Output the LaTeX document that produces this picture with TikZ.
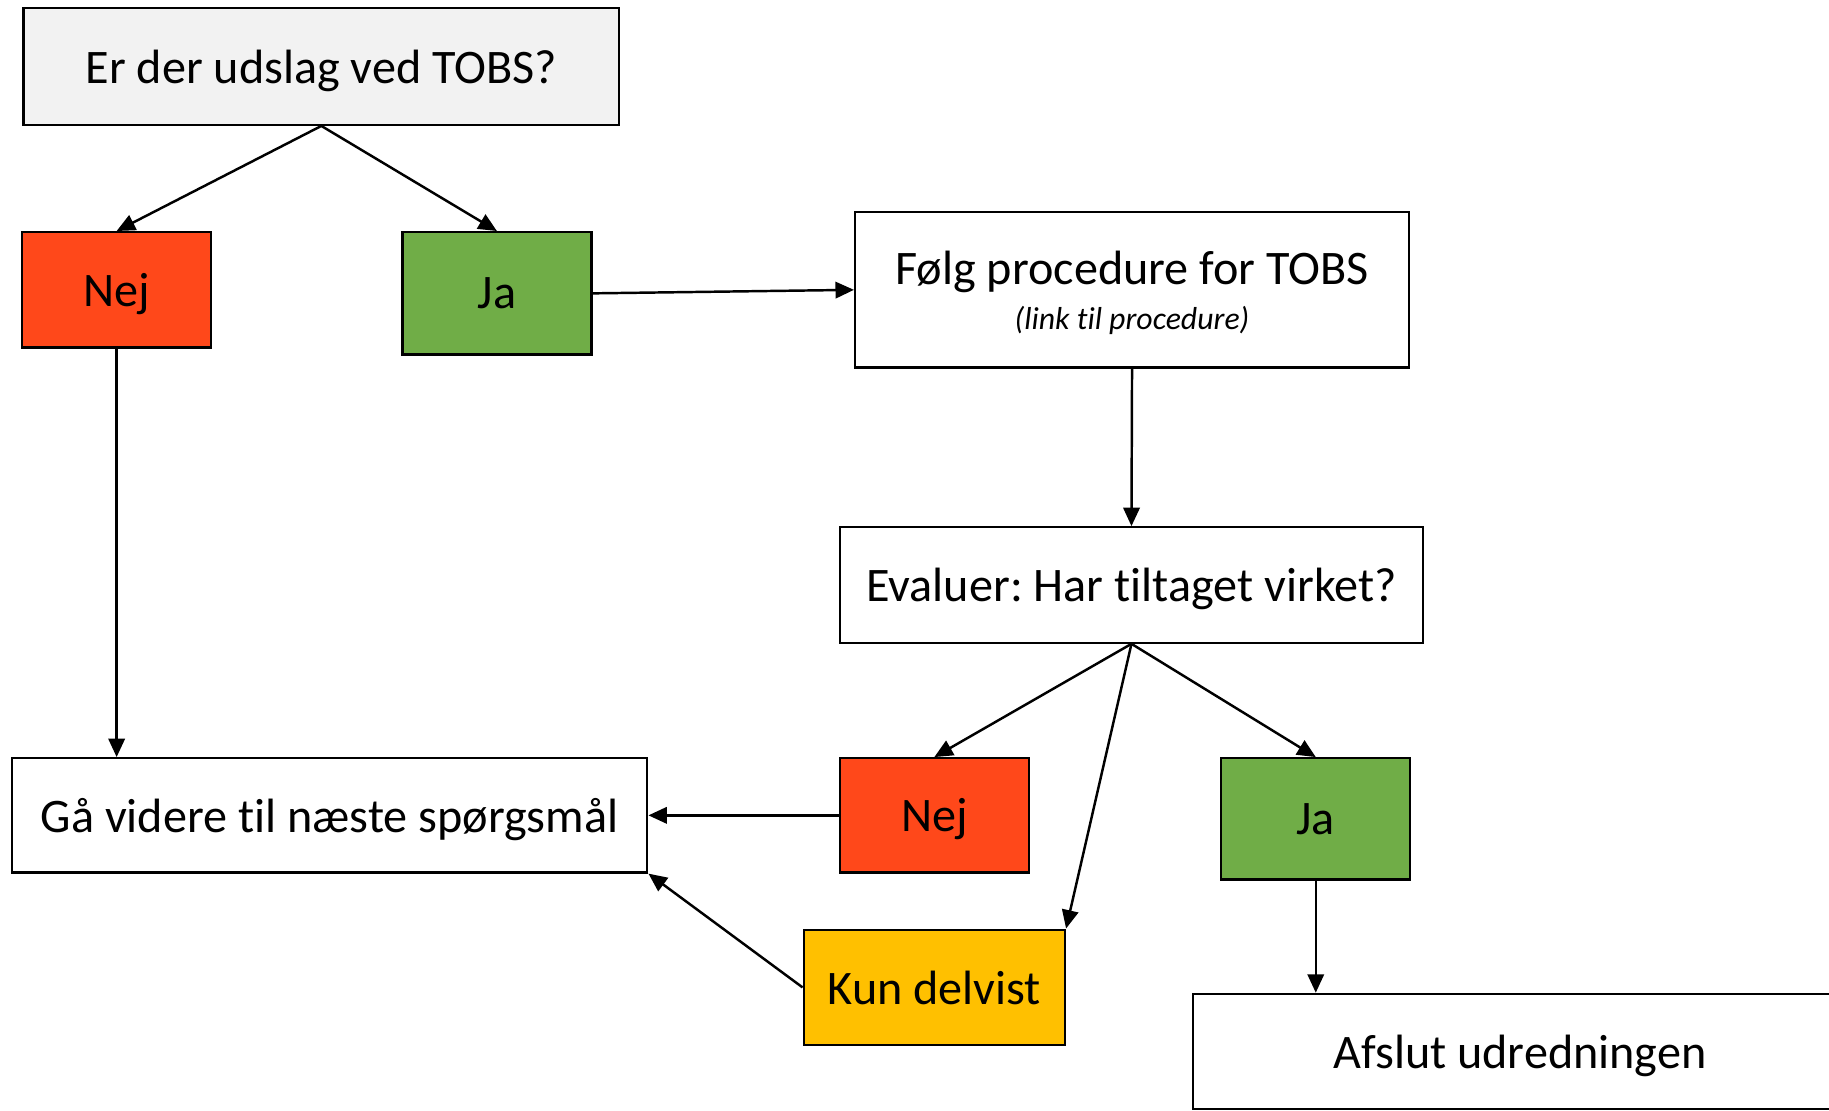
\documentclass[tikz,border=0pt]{standalone}
\usepackage{fontspec}
\setmainfont[Ligatures=NoCommon]{Carlito}
\frenchspacing
\usetikzlibrary{arrows.meta,calc}
\definecolor{nejred}{HTML}{FF481A}
\definecolor{jagreen}{HTML}{70AD47}
\definecolor{kunyellow}{HTML}{FFC000}
\definecolor{topgray}{HTML}{F2F2F2}
\tikzset{
  box/.style={draw=black, line width=1.1pt, rectangle, inner sep=0pt, align=center,
    text depth=0pt, font=\fontsize{23.5}{28}\selectfont, text=black},
  conn/.style={draw=black, line width=1.2pt, -{Triangle[length=9pt,width=8pt]}},
}
\begin{document}
\begin{tikzpicture}[x=0.02cm,y=-0.02cm]
\useasboundingbox (0,0) rectangle (1568,952);
\clip (0,0) rectangle (1568,952);
\fill[white] (0,0) rectangle (1568,952);
\node[box, fill=topgray, minimum width=10.22cm, minimum height=2.0cm] (top) at (275.5,57) {Er der udslag ved TOBS?};
\node[box, fill=nejred, minimum width=3.24cm, minimum height=1.98cm] (nej1) at (100,248.5) {Nej};
\node[box, fill=jagreen, minimum width=3.24cm, minimum height=2.1cm] (ja1) at (426,251.5) {Ja};
\node[box, fill=white, minimum width=9.5cm, minimum height=2.66cm] (folg) at (970.5,248.5) {Følg procedure for TOBS\\[-6pt]{\fontsize{15.5}{18}\selectfont\itshape (link til procedure)}};
\node[box, fill=white, minimum width=10.0cm, minimum height=1.98cm] (eval) at (970,501.5) {Evaluer: Har tiltaget virket?};
\node[box, fill=white, minimum width=10.9cm, minimum height=1.96cm] (ga) at (282.5,699) {Gå videre til næste spørgsmål};
\node[box, fill=nejred, minimum width=3.24cm, minimum height=1.96cm] (nej2) at (801,699) {Nej};
\node[box, fill=jagreen, minimum width=3.24cm, minimum height=2.08cm] (ja2) at (1128,702) {Ja};
\node[box, fill=kunyellow, minimum width=4.48cm, minimum height=1.98cm] (kun) at (801,846.5) {Kun delvist};
\node[box, fill=white, minimum width=11.2cm, minimum height=1.98cm] (afslut) at (1303,901.5) {Afslut udredningen};
\draw[conn] (top.south) -- (nej1.north);
\draw[conn] (top.south) -- (ja1.north);
\draw[conn] (ja1.east) -- (folg.west);
\draw[conn] (folg.south) -- (eval.north);
\draw[conn] (nej1.south) -- (nej1.south |- ga.north);
\draw[conn] (eval.south) -- (nej2.north);
\draw[conn] (eval.south) -- (kun.north east);
\draw[conn] (eval.south) -- (ja2.north);
\draw[conn] (nej2.west) -- (ga.east);
\draw[conn] (kun.west) -- (ga.south east);
\draw[conn] (ja2.south) -- (ja2.south |- afslut.north);
\end{tikzpicture}
\end{document}
